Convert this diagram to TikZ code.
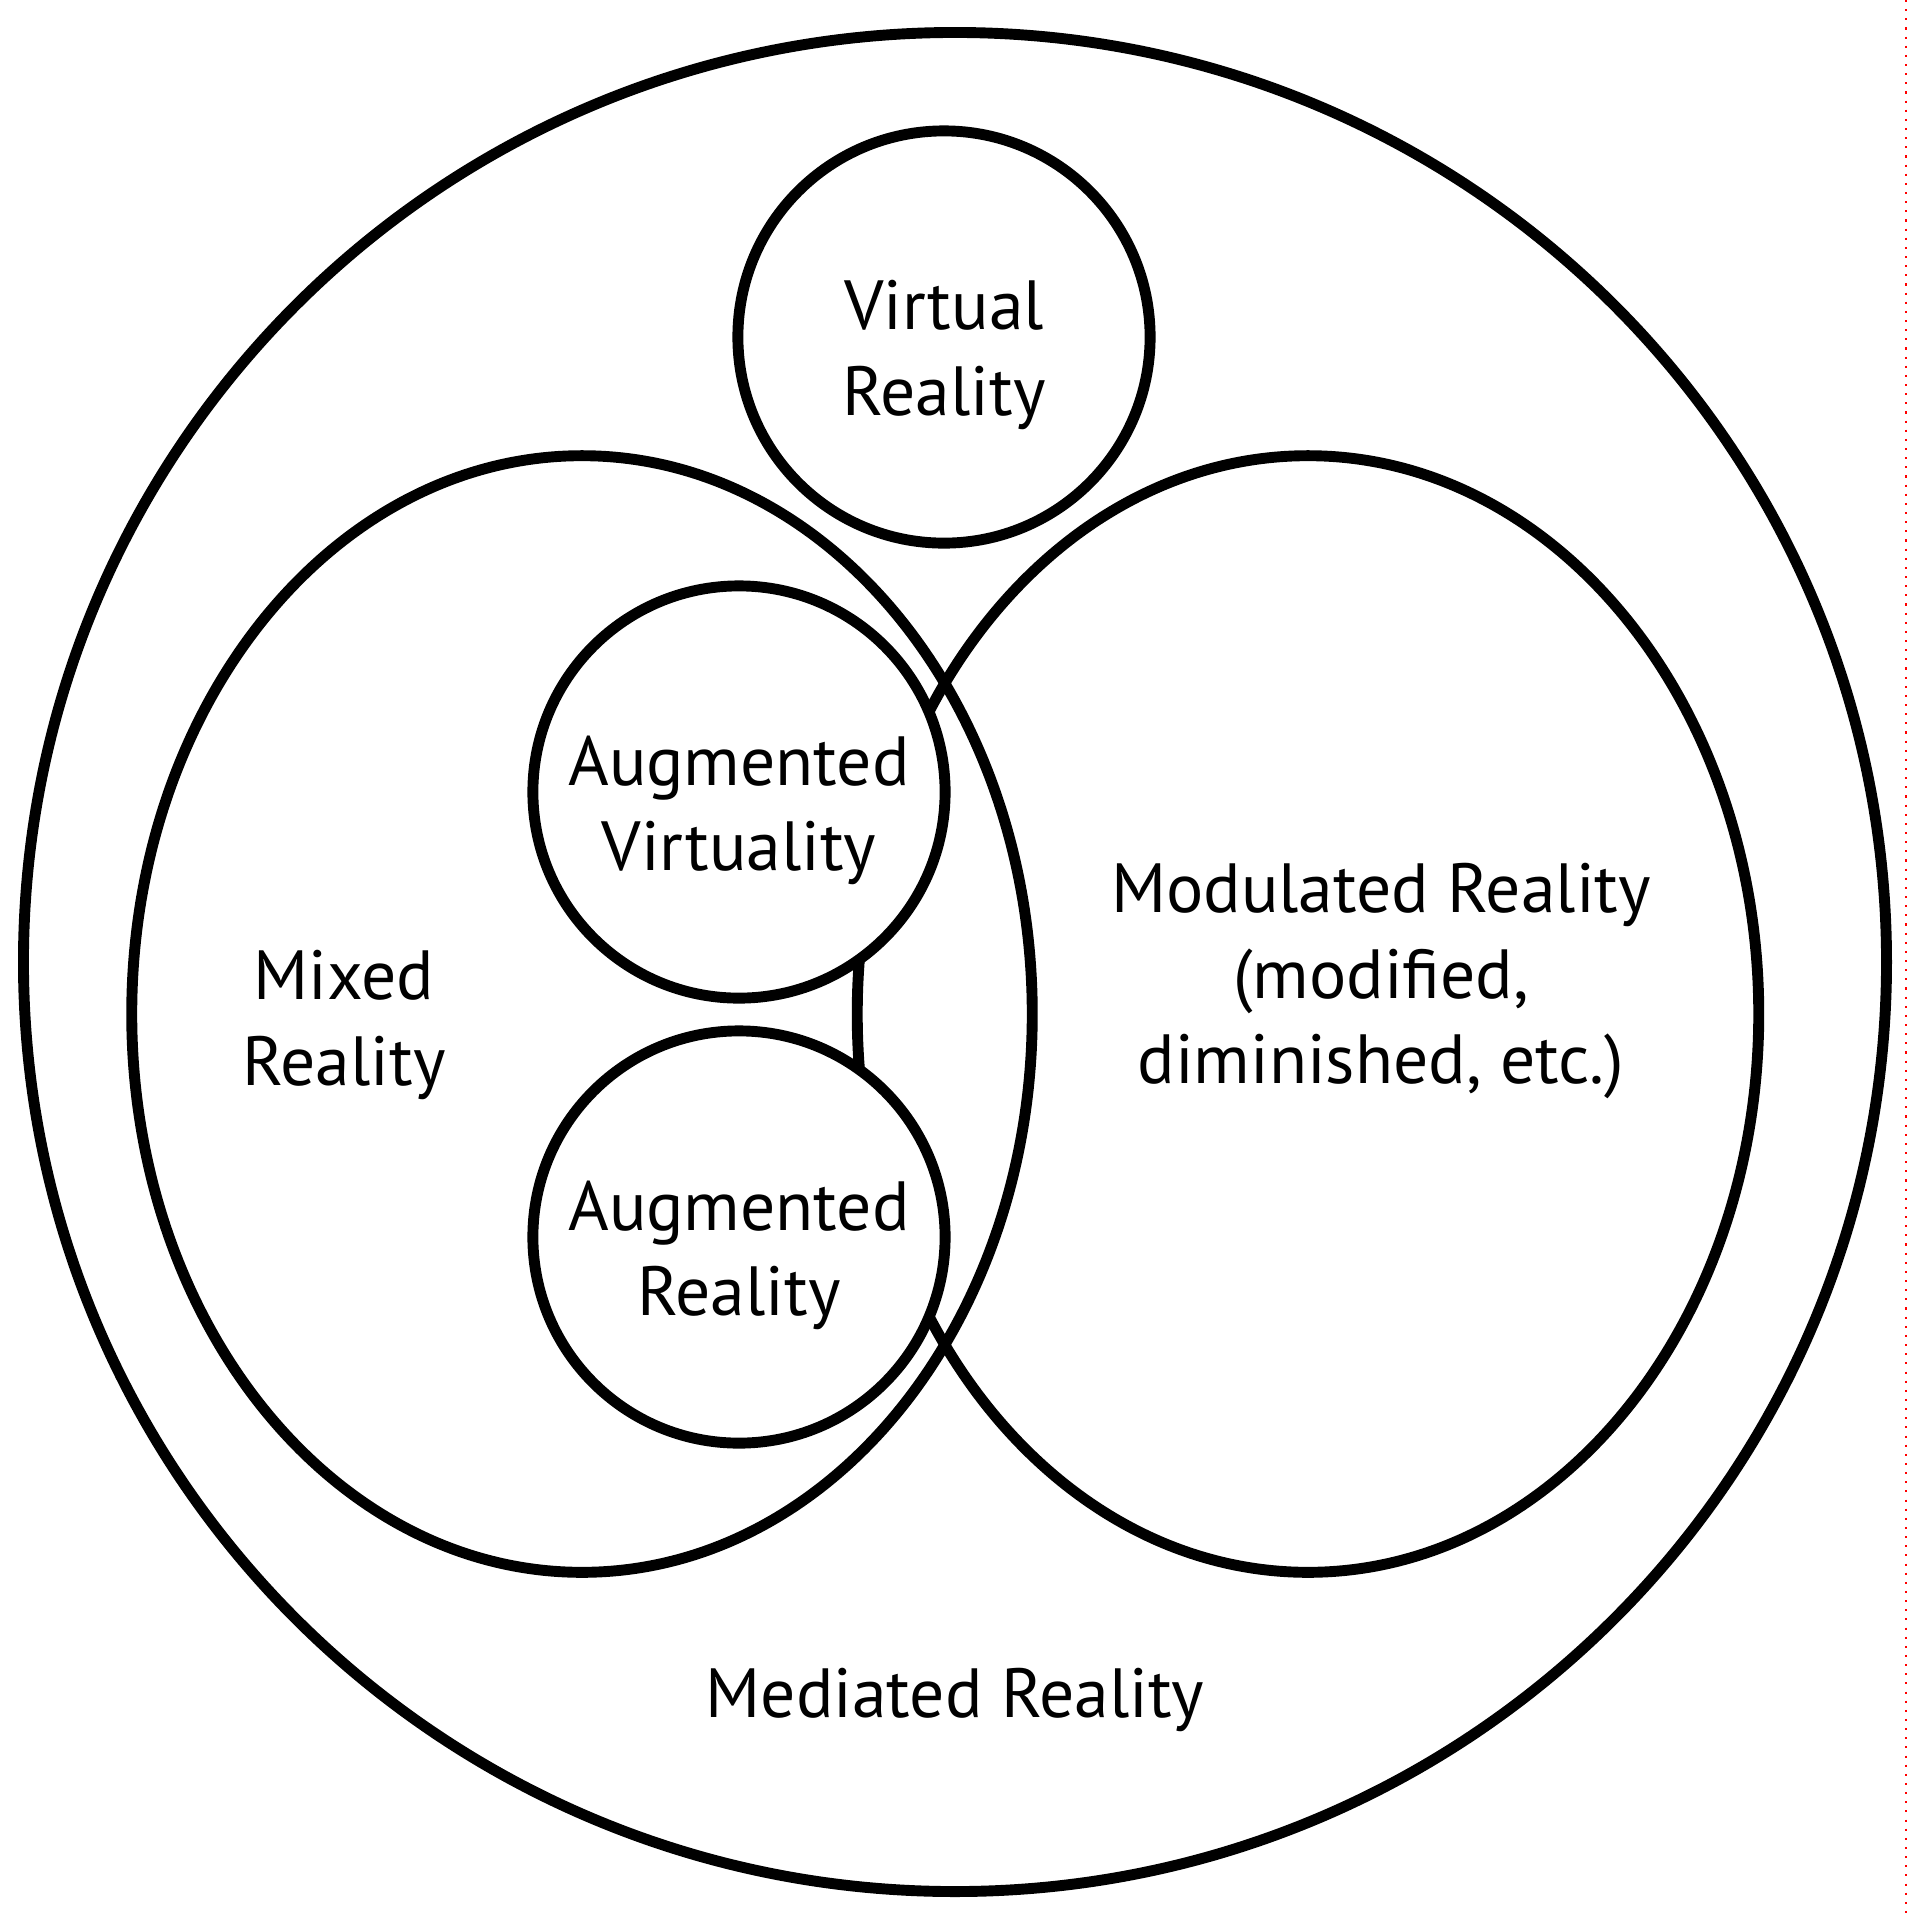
\documentclass[tikz,border=0pt]{standalone}
\usepackage{fontspec}
\setmainfont{PT Sans}
\usetikzlibrary{shapes.geometric, positioning}

\begin{document}
\begin{tikzpicture}[x=0.01cm, y=-0.01cm, line width=3.1pt]
	\tikzstyle{every node}=[font=\fontsize{19.8}{24.2}\selectfont, align=center, inner sep=0pt]
	\tikzstyle{realm}=[ellipse, draw, line width=3.1pt]
	\tikzstyle{world}=[circle, draw, fill=white, line width=3.1pt, minimum size=4.12cm]
	\tikzstyle{worldtext}=[yshift=-0.18cm]
	
	\useasboundingbox (0,0) rectangle (1908,1920);
	
	\node[realm, minimum width=18.62cm, minimum height=18.58cm] (mediated) at (955,962) {};
	\node[realm, minimum width=9cm, minimum height=11.16cm] (mixed) at (582,1014) {};
	\node[realm, minimum width=9.01cm, minimum height=11.16cm] (modulated) at (1308,1014) {};
	
	\node[world] (vr) at (944,337) {};
	\node[world] (av) at (739,792) {};
	\node[world] (ar) at (739,1237) {};
	\node[worldtext] (vrtext) at (vr) {Virtual\\Reality};
	\node[worldtext] (avtext) at (av) {Augmented\\Virtuality};
	\node[worldtext] (artext) at (ar) {Augmented\\Reality};
	
	\node (mixedlabel) at (344,1025) {Mixed\\Reality};
	\node (modulatedlabel) at (1381,981) {Modulated Reality\\(modified,\\diminished, etc.)};
	\node (mediatedlabel) at (955,1700) {Mediated Reality};
	
	\draw[red, dotted, line width=0.6pt] (1906,0) -- (1906,1920);
\end{tikzpicture}
\end{document}
